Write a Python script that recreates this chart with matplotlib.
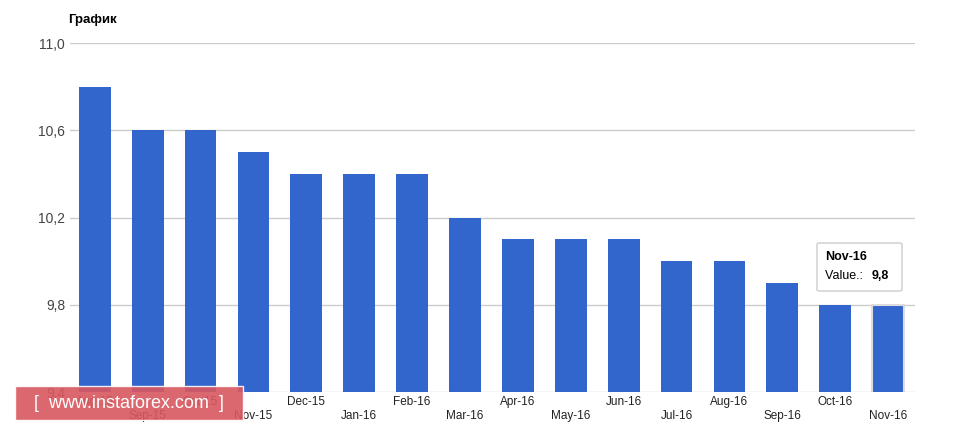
import matplotlib
matplotlib.use("Agg")
import matplotlib.pyplot as plt
from matplotlib.patches import FancyBboxPatch

months = ["Aug-15","Sep-15","Oct-15","Nov-15","Dec-15","Jan-16","Feb-16","Mar-16",
          "Apr-16","May-16","Jun-16","Jul-16","Aug-16","Sep-16","Oct-16","Nov-16"]
values = [10.8,10.6,10.6,10.5,10.4,10.4,10.4,10.2,10.1,10.1,10.1,10.0,10.0,9.9,9.8,9.8]
yticks = [9.4, 9.8, 10.2, 10.6, 11.0]

plt.rcParams['font.family'] = ['Arial', 'Liberation Sans', 'DejaVu Sans']
fig = plt.figure(figsize=(9.77, 4.36), dpi=100)
ax = fig.add_axes([0.0716, 0.1009, 0.865, 0.8001])
x = list(range(len(values)))
bars = ax.bar(x, values, width=0.6, color="#3366cc", zorder=3)
bars[-1].set_edgecolor("#dddddd"); bars[-1].set_linewidth(1.5)
ax.set_ylim(9.4, 11.0)
ax.set_xlim(-0.47, 15.51)
ax.set_yticks(yticks)
ax.set_yticklabels([f"{v:.1f}".replace(".", ",") for v in yticks], fontsize=10, color="#444444")
ax.grid(axis="y", color="#cccccc", lw=1, zorder=0)
for s in ax.spines.values():
    s.set_visible(False)
ax.tick_params(length=0)
ax.set_xticks([])
for i, m in enumerate(months):
    ax.text(i, 9.4 - (0.045 if i % 2 == 0 else 0.11), m, ha="center", va="center",
            fontsize=8.5, color="#222222", transform=ax.transData, clip_on=False)
fig.text(68/977, 1-20/436, "График", fontsize=9.5, fontweight="bold", color="#000000", va="center")

# tooltip
tip = FancyBboxPatch((817/977, 1-291/436), 85/977, 48/436, boxstyle="round,pad=0,rounding_size=0.003",
                     transform=fig.transFigure, facecolor="white", edgecolor="#cccccc", lw=1, zorder=10)
fig.patches.append(tip)
fig.text(825/977, 1-257/436, "Nov-16", fontsize=9, fontweight="bold", va="center", zorder=11)
fig.text(825/977, 1-276/436, "Value.: ", fontsize=9, va="center", zorder=11)
fig.text(872/977, 1-276/436, "9,8", fontsize=9, fontweight="bold", va="center", zorder=11)

# watermark
wm = FancyBboxPatch((15/977, 1-420/436), 228/977, 34/436, boxstyle="square,pad=0",
                    transform=fig.transFigure, facecolor="#d9575f", edgecolor="#ffffff", lw=1, alpha=0.9, zorder=12)
fig.patches.append(wm)
fig.text(129/977, 1-403/436, "[  www.instaforex.com  ]", fontsize=13, color="white",
         ha="center", va="center", zorder=13)
fig.savefig("out.png", dpi=100)
